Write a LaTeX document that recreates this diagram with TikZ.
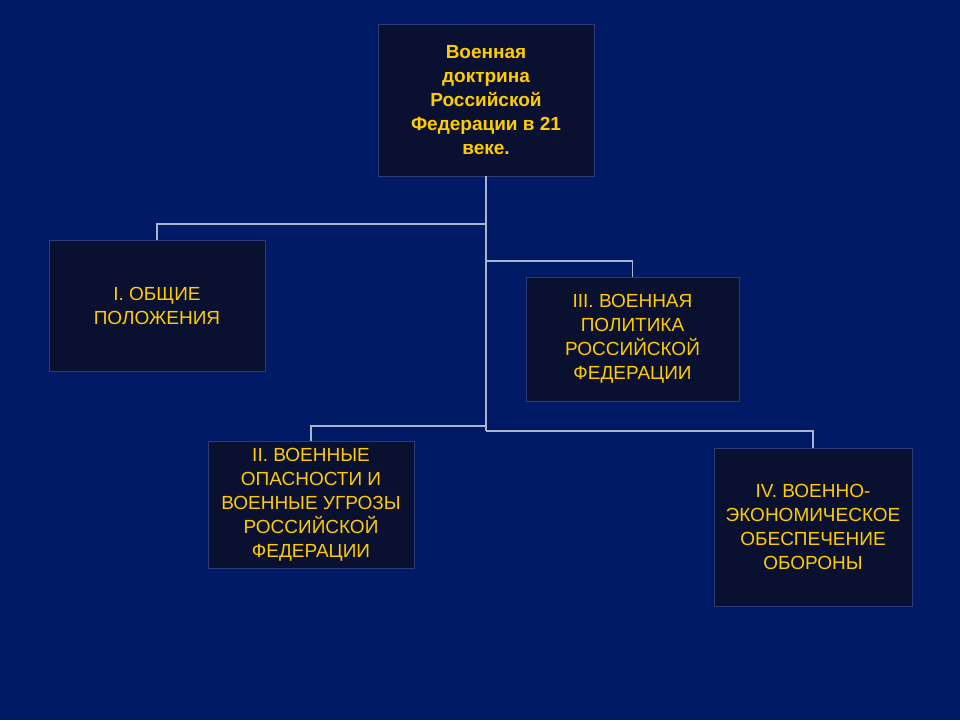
\documentclass[tikz,border=0pt]{standalone}
\usepackage{fontspec}
\setmainfont{Liberation Sans}
\begin{document}
\begin{tikzpicture}[x=1pt,y=-1pt,
  box/.style={draw=boxline,line width=0.8pt,fill=boxfill,text=txt,align=center,inner sep=0pt,font=\fontsize{19}{24}\selectfont},
  conn/.style={draw=linec,line width=1.6pt}]
\definecolor{bg}{HTML}{001A66}
\definecolor{boxfill}{HTML}{0A1030}
\definecolor{boxline}{HTML}{2C3C78}
\definecolor{txt}{HTML}{FFCC00}
\definecolor{linec}{HTML}{A8B4D0}
\fill[bg] (0,0) rectangle (960,720);
\useasboundingbox (0,0) rectangle (960,720);
\node[box,minimum width=216,minimum height=152,font=\bfseries\fontsize{19}{24}\selectfont] (top) at (486,100) {Военная\\доктрина\\Российской\\Федерации в 21\\веке.};
\node[box,minimum width=216,minimum height=131] (b1) at (157,305.5) {I. ОБЩИЕ\\ПОЛОЖЕНИЯ};
\node[box,minimum width=213,minimum height=124] (b3) at (632.5,339) {III. ВОЕННАЯ\\ПОЛИТИКА\\РОССИЙСКОЙ\\ФЕДЕРАЦИИ};
\node[box,minimum width=206,minimum height=127] (b2) at (311,504.5) {II. ВОЕННЫЕ\\ОПАСНОСТИ И\\ВОЕННЫЕ УГРОЗЫ\\РОССИЙСКОЙ\\ФЕДЕРАЦИИ};
\node[box,minimum width=198,minimum height=158] (b4) at (813,527) {IV. ВОЕННО-\\ЭКОНОМИЧЕСКОЕ\\ОБЕСПЕЧЕНИЕ\\ОБОРОНЫ};
\coordinate (t1) at (486,224);
\coordinate (t3) at (486,261);
\coordinate (t2) at (486,426);
\coordinate (t4) at (486,431);
\draw[conn] (top.south) -- (t4);
\draw[conn] (t1) -| (b1.north);
\draw[conn] (t3) -| (b3.north);
\draw[conn] (t2) -| (b2.north);
\draw[conn] (t4) -| (b4.north);
\end{tikzpicture}
\end{document}
